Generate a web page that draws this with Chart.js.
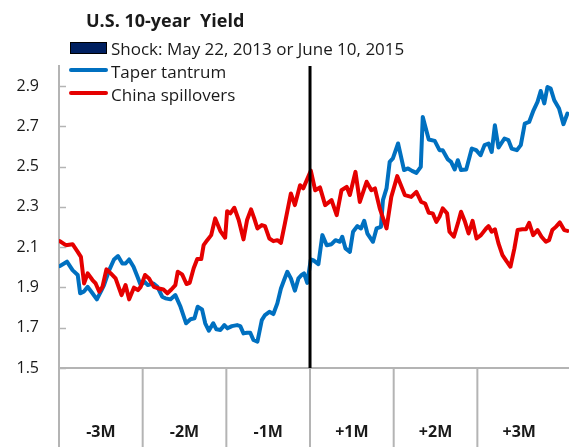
<!DOCTYPE html>
<html>
<head>
<meta charset="utf-8">
<script src="https://cdn.jsdelivr.net/npm/chart.js@4.4.1/dist/chart.umd.min.js"></script>
<style>
  html, body { margin: 0; padding: 0; background: #fff; }
  #wrap { position: relative; width: 569px; height: 447px; font-family: "Open Sans", Lato, sans-serif; color: #1a1a1a; }
  #chart { position: absolute; left: 0; top: 0; }
  .title { position: absolute; left: 86px; top: 8px; font-size: 18px; font-weight: bold; white-space: nowrap; line-height: 24px; }
  .leg-text { position: absolute; left: 111px; font-size: 17px; white-space: nowrap; line-height: 20px; }
  .leg-box { position: absolute; left: 70px; width: 35px; height: 10px; background: #002060; border: 1.5px solid #000; }
  .leg-line { position: absolute; left: 69px; width: 39px; height: 4px; border-radius: 2px; }
</style>
</head>
<body>
<div id="wrap">
  <canvas id="chart" width="569" height="447"></canvas>
  <div class="title">U.S. 10-year&nbsp; Yield</div>
  <div class="leg-box" style="top:42px"></div>
  <div class="leg-text" style="top:39px">Shock: May 22, 2013 or June 10, 2015</div>
  <div class="leg-line" style="top:68px; background:#0070c0"></div>
  <div class="leg-text" style="top:62px">Taper tantrum</div>
  <div class="leg-line" style="top:91px; background:#e50000"></div>
  <div class="leg-text" style="top:85px">China spillovers</div>
</div>
<script>
// trading days relative to the shock date
const monthLabels = ['-3M', '-2M', '-1M', '+1M', '+2M', '+3M'];
const monthEdges = [-63, -42, -21, 0, 21, 42, 63];
const yTicks = [1.5, 1.7, 1.9, 2.1, 2.3, 2.5, 2.7, 2.9];
const shockDay = 0;

const taperDays = [
  -62.8, -61.0, -59.6, -58.3, -57.7, -56.8, -55.8, -54.6, -53.5, -52.5, -51.7, -50.4,
  -49.2, -48.2, -47.1, -46.3, -45.4, -44.3, -43.3, -42.5, -41.5, -40.7, -39.3, -38.3,
  -37.1, -36.3, -35.0, -33.8, -32.5, -31.1, -30.0, -29.0, -28.2, -27.1, -26.3, -25.4,
  -24.3, -23.5, -22.5, -21.5, -20.7, -19.6, -18.3, -17.5, -16.7, -15.8, -15.0, -14.2,
  -13.2, -12.1, -11.3, -10.2, -9.2, -8.2, -7.3, -6.5, -5.7, -4.8, -3.8, -2.9,
  -2.1, -1.5, -0.7, 0.2, 0.8, 2.1, 3.1, 4.2, 5.4, 6.4, 7.5, 8.1,
  8.9, 10.0, 10.8, 11.9, 12.8, 13.6, 14.4, 15.8, 16.7, 17.8, 18.3, 19.2,
  20.0, 20.8, 22.1, 23.6, 24.6, 25.6, 26.7, 27.8, 28.3, 29.8, 31.3, 32.5,
  33.3, 34.6, 35.4, 36.3, 37.1, 37.9, 39.2, 40.6, 41.7, 42.8, 43.8, 44.8,
  45.6, 46.4, 47.3, 48.8, 49.8, 50.6, 51.9, 52.9, 53.9, 55.0, 56.1, 57.1,
  57.9, 58.8, 59.6, 60.4, 61.3, 62.5, 63.6, 64.6
];
const taperYield = [
  2.006, 2.028, 1.986, 1.962, 1.871, 1.879, 1.903, 1.871, 1.841, 1.879, 1.912, 1.986,
  2.039, 2.056, 2.019, 2.019, 2.039, 2.003, 1.953, 1.912, 1.928, 1.912, 1.920, 1.903,
  1.854, 1.846, 1.841, 1.862, 1.804, 1.722, 1.742, 1.747, 1.804, 1.791, 1.722, 1.685,
  1.722, 1.692, 1.689, 1.713, 1.697, 1.708, 1.713, 1.708, 1.672, 1.675, 1.675, 1.639,
  1.631, 1.738, 1.763, 1.779, 1.768, 1.821, 1.895, 1.937, 1.978, 1.945, 1.884, 1.945,
  1.962, 1.970, 1.923, 2.039, 2.036, 2.016, 2.160, 2.110, 2.115, 2.135, 2.127, 2.152,
  2.094, 2.077, 2.177, 2.205, 2.193, 2.231, 2.168, 2.127, 2.193, 2.201, 2.334, 2.392,
  2.524, 2.541, 2.615, 2.483, 2.491, 2.479, 2.469, 2.499, 2.747, 2.635, 2.628, 2.582,
  2.582, 2.536, 2.524, 2.486, 2.532, 2.483, 2.486, 2.590, 2.582, 2.557, 2.607, 2.615,
  2.573, 2.706, 2.595, 2.640, 2.632, 2.590, 2.582, 2.607, 2.714, 2.722, 2.780, 2.822,
  2.876, 2.814, 2.896, 2.888, 2.830, 2.789, 2.711, 2.764
];

const chinaDays = [
  -62.8, -61.3, -59.6, -58.3, -57.5, -56.7, -55.8, -54.6, -53.8, -52.9, -52.1, -51.1,
  -50.0, -48.8, -47.3, -46.3, -45.4, -44.2, -43.2, -42.5, -41.4, -40.4, -39.2, -37.9,
  -36.8, -35.8, -34.8, -33.8, -33.2, -32.1, -31.0, -30.2, -29.2, -28.3, -27.3, -26.7,
  -25.8, -24.8, -23.8, -22.5, -21.3, -20.8, -20.0, -19.0, -17.9, -16.7, -15.8, -14.8,
  -14.0, -13.2, -12.1, -11.3, -10.2, -9.2, -8.2, -7.3, -6.3, -4.8, -3.8, -2.5,
  -1.7, 0.2, 1.3, 2.5, 3.8, 5.4, 6.7, 7.9, 9.2, 10.0, 11.4, 12.5,
  14.2, 15.4, 16.3, 17.5, 19.2, 20.4, 21.9, 23.8, 25.4, 26.7, 27.9, 28.9,
  29.8, 30.8, 31.7, 32.5, 33.3, 34.4, 35.0, 36.1, 37.1, 37.9, 38.9, 39.8,
  40.8, 41.8, 42.9, 44.2, 44.8, 45.6, 46.4, 47.3, 48.3, 49.4, 50.3, 51.3,
  52.1, 53.3, 54.2, 55.0, 56.0, 57.1, 58.1, 59.2, 60.0, 60.8, 61.7, 62.7,
  63.8, 64.6
];
const chinaYield = [
  2.130, 2.110, 2.115, 2.077, 2.052, 1.920, 1.970, 1.937, 1.920, 1.879, 1.903, 1.990,
  1.970, 1.945, 1.862, 1.912, 1.841, 1.899, 1.887, 1.903, 1.962, 1.945, 1.903, 1.895,
  1.890, 1.871, 1.890, 1.912, 1.978, 1.965, 1.917, 1.923, 1.995, 2.041, 2.041, 2.110,
  2.135, 2.160, 2.243, 2.180, 2.147, 2.279, 2.268, 2.296, 2.235, 2.139, 2.235, 2.288,
  2.243, 2.193, 2.210, 2.205, 2.143, 2.130, 2.135, 2.122, 2.218, 2.367, 2.309, 2.408,
  2.392, 2.480, 2.383, 2.397, 2.309, 2.334, 2.259, 2.383, 2.400, 2.359, 2.474, 2.325,
  2.425, 2.383, 2.392, 2.293, 2.193, 2.350, 2.453, 2.359, 2.350, 2.375, 2.325, 2.317,
  2.271, 2.268, 2.226, 2.251, 2.293, 2.268, 2.177, 2.152, 2.218, 2.276, 2.226, 2.168,
  2.231, 2.143, 2.160, 2.193, 2.205, 2.177, 2.189, 2.119, 2.061, 2.028, 2.003, 2.094,
  2.185, 2.189, 2.189, 2.221, 2.160, 2.185, 2.152, 2.127, 2.135, 2.185, 2.201, 2.223,
  2.185, 2.181
];

const Y_MIN = 1.5;
const Y_MAX = 3.0;
const AXIS_GRAY = '#b4b4b4';
const TEXT = '#1a1a1a';

Chart.defaults.font.family = '"Open Sans", Lato, sans-serif';

const toPoints = (xs, ys) => xs.map((x, i) => ({ x, y: ys[i] }));

// inward tick marks on the value axis and the month dividers under the chart
const axisMarks = {
  id: 'axisMarks',
  afterDraw(chart) {
    const { ctx, chartArea, scales } = chart;
    ctx.save();
    ctx.strokeStyle = AXIS_GRAY;
    ctx.lineWidth = 1.5;
    yTicks.forEach(v => {
      const y = Math.round(scales.y.getPixelForValue(v)) + 0.5;
      ctx.beginPath();
      ctx.moveTo(chartArea.left, y);
      ctx.lineTo(chartArea.left + 7, y);
      ctx.stroke();
    });
    // the picture is cut before the closing divider, so skip the last edge
    ctx.lineWidth = 2;
    monthEdges.slice(0, -1).forEach(v => {
      const x = scales.x.getPixelForValue(v);
      ctx.beginPath();
      ctx.moveTo(x, chartArea.bottom);
      ctx.lineTo(x, chart.height);
      ctx.stroke();
    });
    ctx.restore();
  },
};

new Chart(document.getElementById('chart'), {
  type: 'line',
  data: {
    datasets: [
      {
        label: 'Shock: May 22, 2013 or June 10, 2015',
        data: [{ x: shockDay, y: Y_MIN }, { x: shockDay, y: Y_MAX }],
        borderColor: '#000',
        borderWidth: 3,
        pointRadius: 0,
        order: 0,
      },
      {
        label: 'China spillovers',
        data: toPoints(chinaDays, chinaYield),
        borderColor: '#e50000',
        borderWidth: 4,
        pointRadius: 0,
        tension: 0,
        borderJoinStyle: 'round',
        borderCapStyle: 'round',
        order: 1,
      },
      {
        label: 'Taper tantrum',
        data: toPoints(taperDays, taperYield),
        borderColor: '#0070c0',
        borderWidth: 4,
        pointRadius: 0,
        tension: 0,
        borderJoinStyle: 'round',
        borderCapStyle: 'round',
        order: 2,
      },
    ],
  },
  options: {
    responsive: false,
    animation: false,
    events: [],
    layout: { padding: { top: 66, right: 0, bottom: 0, left: 0 } },
    plugins: {
      legend: { display: false },
      title: { display: false },
      tooltip: { enabled: false },
    },
    scales: {
      x: {
        type: 'linear',
        min: -63,
        max: 65,
        grid: { display: true, drawOnChartArea: false, drawTicks: true, tickLength: 55, color: 'rgba(0,0,0,0)' },
        border: { color: AXIS_GRAY, width: 2 },
        afterBuildTicks: s => {
          s.ticks = monthLabels.map((_, i) => ({ value: (monthEdges[i] + monthEdges[i + 1]) / 2 }));
        },
        ticks: {
          autoSkip: false,
          maxRotation: 0,
          padding: 0,
          color: TEXT,
          font: { size: 16, weight: 'bold' },
          callback: (v, i) => monthLabels[i],
        },
        afterFit: s => { s.height = 79; },
      },
      y: {
        min: Y_MIN,
        max: Y_MAX,
        grid: { display: false, drawTicks: false },
        border: { color: AXIS_GRAY, width: 2 },
        afterBuildTicks: s => {
          s.ticks = yTicks.map(v => ({ value: v }));
        },
        ticks: {
          padding: 20,
          color: TEXT,
          font: { size: 16 },
          callback: v => v.toFixed(1),
        },
        afterFit: s => { s.width = 59; },
      },
    },
  },
  plugins: [axisMarks],
});
</script>
</body>
</html>
